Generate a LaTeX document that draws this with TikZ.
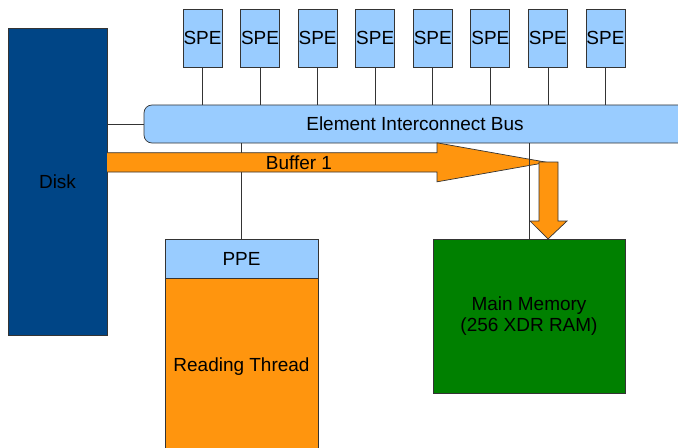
\documentclass[tikz,border=0pt]{standalone}
\usepackage{fontspec}
\setmainfont{Liberation Sans}
\usepackage{tikz}
\usetikzlibrary{positioning, calc}
\definecolor{diskblue}{RGB}{0,69,134}
\definecolor{paleblue}{RGB}{153,204,255}
\definecolor{cellorange}{RGB}{255,149,14}
\definecolor{memgreen}{RGB}{0,128,0}
\definecolor{edgegray}{RGB}{52,52,52}
\tikzset{
  bloque/.style={rectangle, draw=edgegray, line width=0.6pt, inner sep=0pt, text centered, font=\fontsize{16.2}{17.9}\selectfont},
  spe/.style={bloque, fill=paleblue, minimum width=1.17cm, minimum height=1.74cm},
  enlace/.style={line width=0.6pt, color=edgegray},
  flecha/.style={fill=cellorange, draw=edgegray, line width=0.6pt, line join=miter}
}
\begin{document}
\begin{tikzpicture}
  \clip (0,0) rectangle (20.34,13.41);
  % Disco y bus
  \node (disk) [bloque, fill=diskblue, minimum width=2.97cm, minimum height=9.21cm] at (1.725,7.965) {Disk};
  \node (bus) [bloque, fill=paleblue, rounded corners=0.24cm, minimum width=16.26cm, minimum height=1.14cm] at (12.45,9.69) {Element Interconnect Bus};
  \draw [enlace] (bus.west) -- (bus.west -| disk.east);
  % SPEs
  \foreach \i in {0,...,7} {
    \node (spe\i) [spe] at (6.075+1.727*\i,12.27) {SPE};
    \draw [enlace] (spe\i.south) -- (spe\i.south |- bus.north);
  }
  % PPE y memoria
  \node (ppe) [bloque, fill=paleblue, minimum width=4.59cm, minimum height=1.17cm] at (7.245,5.655) {PPE};
  \node (hilo) [bloque, fill=cellorange, minimum width=4.59cm, minimum height=5.25cm, below=0pt of ppe] {Reading Thread};
  \node (mem) [bloque, fill=memgreen, minimum width=5.76cm, minimum height=4.62cm, align=center] at (15.87,3.93) {Main Memory\\(256 XDR RAM)};
  \draw [enlace] (ppe.north) -- (ppe.north |- bus.south);
  % Flechas del buffer
  \coordinate (bufini) at (3.21,8.54);
  \coordinate (buftip) at (16.41,8.54);
  \coordinate (memtip) at (16.44,6.24);
  \filldraw [flecha] ($(bufini)+(0,0.29)$) -- (13.11,8.83) -- (13.11,9.125) -- (buftip)
    -- (13.11,7.955) -- (13.11,8.25) -- ($(bufini)+(0,-0.29)$);
  \filldraw [flecha] (16.17,8.55) -- (16.74,8.55) -- (16.74,6.78) -- (17.01,6.78)
    -- (memtip) -- (15.9,6.78) -- (16.17,6.78) -- cycle;
  \node (buf) [font=\fontsize{16.2}{17.9}\selectfont] at (8.97,8.54) {Buffer 1};
  \draw [enlace] (mem.north) -- (mem.north |- bus.south);
\end{tikzpicture}
\end{document}
